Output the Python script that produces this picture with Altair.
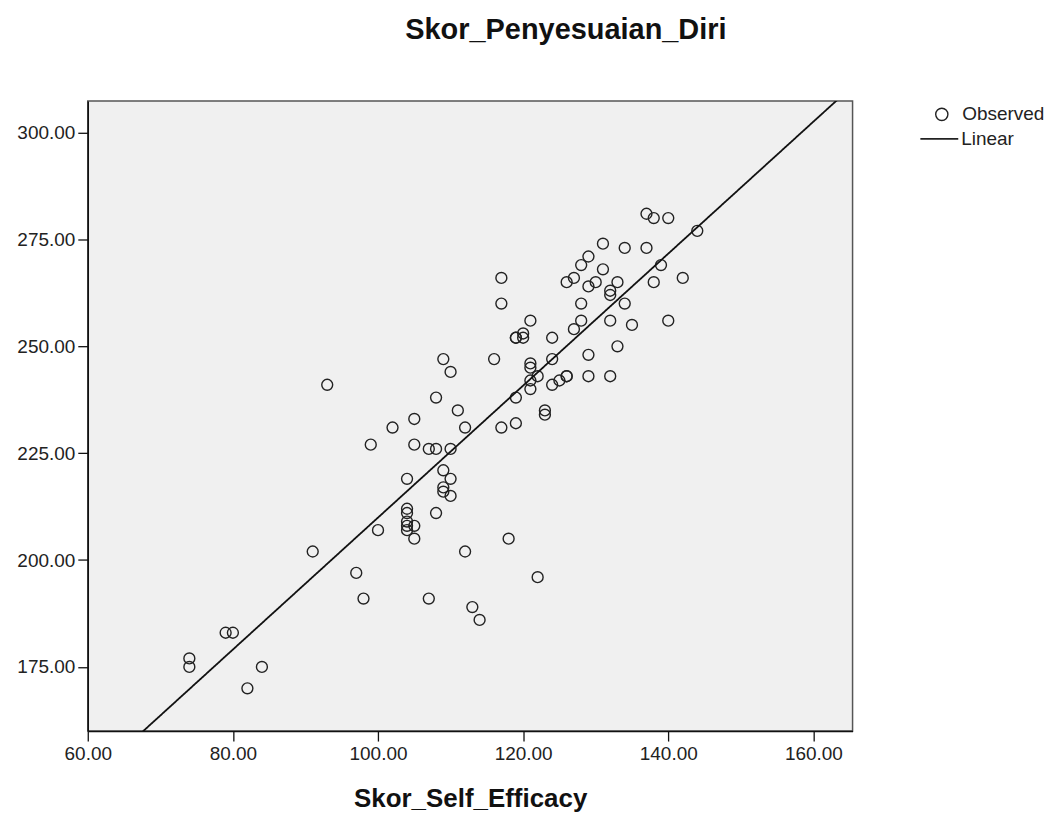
import altair as alt
import pandas as pd

# Skor_Self_Efficacy (x) and Skor_Penyesuaian_Diri (y)
self_efficacy = [
    74, 74, 79, 80, 82, 84, 91, 93, 97, 98, 99, 100, 102, 104, 104, 104, 104, 104, 104,
    105, 105, 105, 105, 107, 107, 108, 108, 108, 109, 109, 109, 109, 110, 110, 110, 110,
    111, 112, 112, 113, 114, 116, 117, 117, 117, 118, 119, 119, 119, 120, 120, 121, 121,
    121, 121, 121, 122, 122, 123, 123, 124, 124, 124, 125, 126, 126, 127, 127, 128, 128,
    128, 129, 129, 129, 129, 130, 131, 131, 132, 132, 132, 132, 133, 133, 134, 134, 135,
    137, 137, 138, 138, 139, 140, 140, 142, 144, 119, 126,
]
penyesuaian_diri = [
    177, 175, 183, 183, 170, 175, 202, 241, 197, 191, 227, 207, 231, 219, 212, 211, 209, 208, 207,
    233, 227, 208, 205, 226, 191, 238, 226, 211, 247, 221, 217, 216, 244, 226, 219, 215,
    235, 231, 202, 189, 186, 247, 266, 260, 231, 205, 252, 238, 232, 253, 252, 256, 246,
    245, 242, 240, 243, 196, 235, 234, 252, 247, 241, 242, 265, 243, 266, 254, 269, 260,
    256, 271, 264, 248, 243, 265, 274, 268, 263, 262, 256, 243, 265, 250, 273, 260, 255,
    281, 273, 280, 265, 269, 280, 256, 266, 277, 252, 243,
]

obs_label = ["Observed"]
fit_label = ["Linear"]

x_ticks = [60, 80, 100, 120, 140, 160]
y_ticks = [175, 200, 225, 250, 275, 300]
x_domain = [60, 165.4]
y_domain = [160, 307.4]

df = pd.DataFrame({
    "Skor_Self_Efficacy": self_efficacy,
    "Skor_Penyesuaian_Diri": penyesuaian_diri,
    "obs": obs_label * len(self_efficacy),
})

FONT = "Liberation Sans"

x_enc = alt.X(
    "Skor_Self_Efficacy:Q",
    scale=alt.Scale(domain=x_domain, nice=False, zero=False),
    axis=alt.Axis(
        values=x_ticks, format=".2f", title="Skor_Self_Efficacy",
        grid=False, tickSize=10, labelPadding=4, labelFontSize=19,
        labelColor="#222", titleFontSize=26, titleFontWeight="bold",
        titleColor="#111", titleBaseline="alphabetic", titleY=76,
        domainColor="#111", domainWidth=1.5, tickColor="#111", tickWidth=1.3,
        labelFont=FONT, titleFont=FONT, labelFlush=False,
    ),
)
y_enc = alt.Y(
    "Skor_Penyesuaian_Diri:Q",
    scale=alt.Scale(domain=y_domain, nice=False, zero=False),
    axis=alt.Axis(
        values=y_ticks, format=".2f", title=None, grid=False,
        tickSize=10, labelPadding=3, labelFontSize=19, labelColor="#222",
        domainColor="#111", domainWidth=1.5, tickColor="#111", tickWidth=1.3,
        labelFont=FONT, labelFlush=False,
    ),
)

points = alt.Chart(df).mark_point(
    filled=False, size=120, strokeWidth=1.4, color="#222", opacity=1
).encode(
    x=x_enc,
    y=y_enc,
    shape=alt.Shape(
        "obs:N",
        scale=alt.Scale(domain=obs_label, range=["circle"]),
        legend=alt.Legend(
            title=None, orient="none", legendX=847, legendY=4,
            labelFontSize=19, labelFont=FONT, labelColor="#222",
            symbolSize=150, symbolStrokeColor="#222", symbolStrokeWidth=1.4,
            symbolFillColor="transparent", labelOffset=11, padding=0,
        ),
    ),
)

line = alt.Chart(df).transform_regression(
    "Skor_Self_Efficacy", "Skor_Penyesuaian_Diri", extent=[55, 170]
).transform_calculate(fit="'Linear'").mark_line(
    color="#111", strokeWidth=1.8, clip=True
).encode(
    x="Skor_Self_Efficacy:Q",
    y="Skor_Penyesuaian_Diri:Q",
    strokeDash=alt.StrokeDash(
        "fit:N",
        scale=alt.Scale(domain=fit_label, range=[[1, 0]]),
        legend=alt.Legend(
            title=None, orient="none", legendX=834, legendY=18,
            labelFontSize=19, labelFont=FONT, labelColor="#222",
            symbolSize=1444, symbolStrokeColor="#222", symbolStrokeWidth=1.8,
            labelOffset=2, padding=0,
        ),
    ),
)

chart = alt.layer(points, line).properties(
    width=767,
    height=632,
    background="white",
    autosize=alt.AutoSizeParams(type="none"),
    padding={"left": 80, "top": 92, "right": 195, "bottom": 80},
    title=alt.TitleParams(
        "Skor_Penyesuaian_Diri", fontSize=29, fontWeight="bold", font=FONT,
        color="#111", anchor="middle", dx=96, offset=56,
    ),
).configure_view(
    fill="#f0f0f0", stroke="#555", strokeWidth=1.5
)

chart.save("out.html", embed_options={"renderer": "svg", "actions": False})
